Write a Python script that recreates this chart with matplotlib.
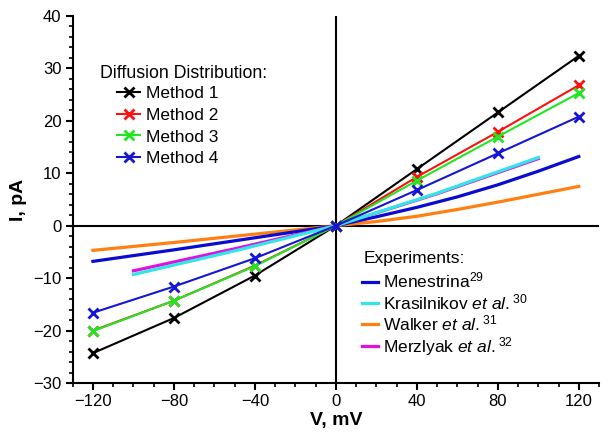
import matplotlib
matplotlib.use("Agg")
import matplotlib.pyplot as plt
from matplotlib.lines import Line2D
from matplotlib.ticker import MultipleLocator, FixedLocator

plt.rcParams['font.family'] = ['Liberation Sans', 'DejaVu Sans']
plt.rcParams['mathtext.fontset'] = 'custom'
plt.rcParams['mathtext.rm'] = 'Liberation Sans'
plt.rcParams['mathtext.it'] = 'Liberation Sans:italic'

# Simulated methods
v_meth = [-120, -80, -40, 0, 40, 80, 120]
method1 = [-24.3, -17.6, -9.5, 0, 10.8, 21.6, 32.4]
method2 = [-20.0, -14.3, -7.6, 0, 9.3, 17.9, 26.8]
method3 = [-20.1, -14.3, -7.7, 0, 8.6, 17.0, 25.3]
method4 = [-16.6, -11.6, -6.2, 0, 6.8, 13.8, 20.8]

# Experiments
v_men = [-120, -80, -40, 0, 20, 40, 60, 80, 100, 120]
menestrina = [-6.8, -4.6, -2.3, 0, 1.7, 3.5, 5.5, 7.8, 10.4, 13.2]
v_kras = [-100, -50, 0, 50, 100]
krasilnikov = [-9.3, -4.8, 0, 6.2, 13.0]
v_walk = [-120, -80, -40, 0, 20, 40, 60, 80, 100, 120]
walker = [-4.7, -3.2, -1.6, 0, 0.8, 1.8, 3.1, 4.5, 6.0, 7.5]
v_merz = [-100, -50, 0, 50, 100]
merzlyak = [-8.6, -4.4, 0, 6.1, 12.8]

method_labels = ['Method 1', 'Method 2', 'Method 3', 'Method 4']
method_colors = ['#000000', '#ff1010', '#22e622', '#1515d5']
exp_labels = ['Menestrina$^{29}$', 'Krasilnikov $\\it{et\\ al.}$$^{30}$',
              'Walker $\\it{et\\ al.}$$^{31}$', 'Merzlyak $\\it{et\\ al.}$$^{32}$']
exp_colors = ['#0a0ad0', '#30e6e6', '#ff8010', '#e010e0']

fig = plt.figure(figsize=(6.12, 4.43), dpi=100)
ax = fig.add_axes([0.1188, 0.1354, 0.86, 0.8285])

ax.axhline(0, color='black', lw=1.5, zorder=1)
ax.axvline(0, color='black', lw=1.5, zorder=1)

exp_data = [(v_men, menestrina), (v_kras, krasilnikov), (v_walk, walker), (v_merz, merzlyak)]
draw_order = [2, 0, 3, 1]
for i in draw_order:
    x, y = exp_data[i]
    ax.plot(x, y, color=exp_colors[i], lw=2.3, zorder=2, solid_joinstyle='round')

meth_data = [method1, method2, method3, method4]
for y, c in zip(meth_data, method_colors):
    ax.plot(v_meth, y, color=c, lw=1.5, marker='x', ms=7.5, mew=2.0, zorder=3)

ax.set_xlim(-130, 130)
ax.set_ylim(-30, 40)
for s in ['top', 'right']:
    ax.spines[s].set_visible(False)
ax.spines['left'].set_linewidth(1.5)
ax.spines['bottom'].set_linewidth(1.5)

ax.xaxis.set_major_locator(FixedLocator([-120, -80, -40, 0, 40, 80, 120]))
ax.xaxis.set_minor_locator(MultipleLocator(10))
ax.yaxis.set_major_locator(MultipleLocator(10))
ax.yaxis.set_minor_locator(MultipleLocator(2))
ax.tick_params(which='major', direction='out', length=5, width=1.5, labelsize=12, pad=3)
ax.tick_params(which='minor', direction='out', length=3, width=1.2)

ax.set_xlabel('V, mV', fontsize=14, fontweight='bold', labelpad=2)
ax.set_ylabel('I, pA', fontsize=14, fontweight='bold')
ax.yaxis.set_label_coords(-0.087, 0.5)

# Legend 1
ax.text(-116.4, 29.1, 'Diffusion Distribution:', fontsize=12.8, va='center', ha='left')
h1 = [Line2D([], [], color=c, lw=1.5, marker='x', ms=7.5, mew=2.0) for c in method_colors]
leg1 = ax.legend(h1, method_labels, loc='upper left', bbox_to_anchor=(-108, 26.6),
                 bbox_transform=ax.transData,
                 frameon=False, fontsize=12.5, handlelength=1.3, handletextpad=0.35,
                 labelspacing=0.37, borderpad=0, borderaxespad=0)
ax.add_artist(leg1)

# Legend 2
ax.text(13.5, -6.3, 'Experiments:', fontsize=12.5, va='center', ha='left')
h2 = [Line2D([], [], color=c, lw=2.3) for c in exp_colors]
leg2 = ax.legend(h2, exp_labels, loc='upper left', bbox_to_anchor=(13.0, -8.6),
                 bbox_transform=ax.transData,
                 frameon=False, fontsize=12.5, handlelength=0.9, handletextpad=0.3,
                 labelspacing=0.08, borderpad=0, borderaxespad=0)

fig.savefig('out.png', dpi=100)
